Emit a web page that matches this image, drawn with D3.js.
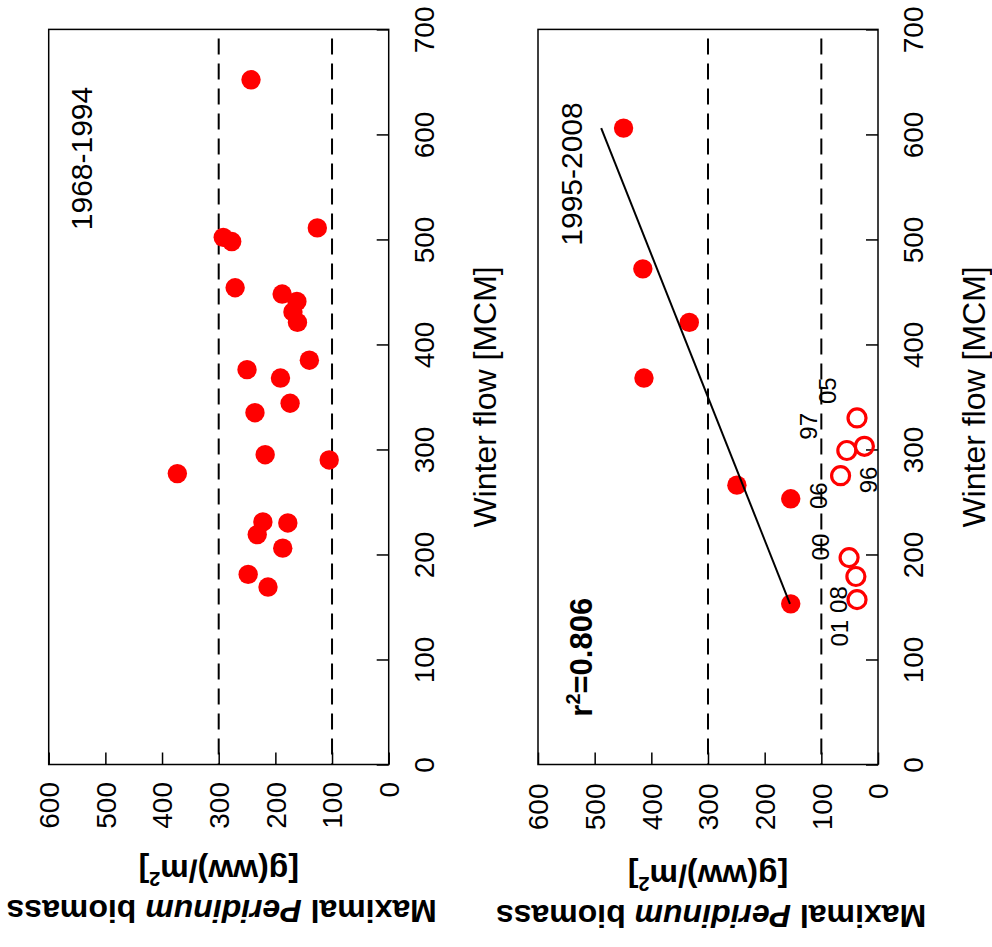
<!DOCTYPE html>
<html>
<head>
<meta charset="utf-8">
<script src="https://cdn.jsdelivr.net/npm/d3@7"></script>
<style>
  html, body { margin: 0; padding: 0; background: #fff; }
  svg { display: block; }
  text { font-family: "Liberation Sans", Arial, Helvetica, sans-serif; fill: #000; }
</style>
</head>
<body>
<svg id="chart" width="992" height="947"></svg>
<script>
// Axis ticks
const flowTicks = [0, 100, 200, 300, 400, 500, 600, 700];
const biomassTicks = [0, 100, 200, 300, 400, 500, 600];
const referenceLevels = [100, 300];

// 1968-1994: winter flow [MCM] and maximal Peridinium biomass [g(ww)/m2]
const earlyFlow    = [652, 502, 498, 511, 454, 448, 441, 431, 421, 385, 376, 368, 344, 335, 295, 290, 277, 231, 230, 219, 206, 181, 169];
const earlyBiomass = [243, 292, 277, 126, 271, 188, 162, 169, 161, 140, 250, 191, 174, 236, 218, 105, 373, 222, 178, 232, 187, 248, 213];

// 1995-2008: years used in the regression
const lateFlow    = [606, 472, 421, 368, 266, 253, 153];
const lateBiomass = [449, 415, 333, 413, 249, 154, 154];

// 1995-2008: low-biomass years (open symbols)
const lowFlow    = [330, 303, 299, 275, 197, 179, 157];
const lowBiomass = [37, 24, 55, 66, 51, 39, 37];

// Year annotations next to the open symbols (data coordinates)
const lowYears        = ["05", "97", "96", "06", "00", "08", "01"];
const lowYearFlow     = [356, 322, 271, 256, 207, 157, 125];
const lowYearBiomass  = [89, 123, 17, 104, 102, 70, 67];

const rSquaredText = "0.806";

const svg = d3.select("#chart");
const FRAME_TOP = 29.4, FRAME_BOTTOM = 764.5;
const flowY = d3.scaleLinear().domain([0, 700]).range([FRAME_BOTTOM, FRAME_TOP]);

const panels = [
  { left: 48.7, right: 388.7, period: "1968-1994", periodX: 92, periodY: 158.5, shift: 0 },
  { left: 538,  right: 878,   period: "1995-2008", periodX: 582, periodY: 174, shift: 5 }
];

function drawPanel(p) {
  const x = d3.scaleLinear().domain([0, 600]).range([p.right, p.left]);
  const g = svg.append("g");

  // dashed reference levels
  g.selectAll("line.ref").data(referenceLevels).join("line")
    .attr("class", "ref")
    .attr("x1", d => x(d)).attr("x2", d => x(d))
    .attr("y1", FRAME_TOP).attr("y2", FRAME_BOTTOM)
    .attr("stroke", "#000").attr("stroke-width", 2)
    .attr("stroke-dasharray", "16 9").attr("stroke-dashoffset", 16);

  // winter flow axis (right side, ticks inward)
  const gy = g.append("g")
    .attr("transform", `translate(${p.right},0)`)
    .call(d3.axisRight(flowY).tickValues(flowTicks).tickSize(-12).tickFormat(d3.format("d")))
    .attr("font-size", 28).attr("font-family", null);
  gy.select(".domain").remove();
  gy.selectAll(".tick line").attr("stroke", "#000").attr("stroke-width", 1.5);
  gy.selectAll(".tick text")
    .attr("x", 0).attr("dy", 0)
    .attr("transform", "translate(45,0) rotate(-90)")
    .attr("text-anchor", "middle");

  // biomass axis (bottom, ticks inward)
  const gx = g.append("g")
    .attr("transform", `translate(0,${FRAME_BOTTOM})`)
    .call(d3.axisBottom(x).tickValues(biomassTicks).tickSize(-12).tickFormat(d3.format("d")))
    .attr("font-size", 28).attr("font-family", null);
  gx.select(".domain").remove();
  gx.selectAll(".tick line").attr("stroke", "#000").attr("stroke-width", 1.5);
  gx.selectAll(".tick text")
    .attr("y", 0).attr("dy", "0.35em")
    .attr("transform", `translate(0,${17.5 + p.shift * 0.3}) rotate(-90)`)
    .attr("text-anchor", "end");

  // frame
  g.append("rect")
    .attr("x", p.left).attr("y", FRAME_TOP)
    .attr("width", p.right - p.left).attr("height", FRAME_BOTTOM - FRAME_TOP)
    .attr("fill", "none").attr("stroke", "#000").attr("stroke-width", 1.5);

  // axis titles
  g.append("text")
    .attr("transform", `translate(${p.right + 107},${(FRAME_TOP + FRAME_BOTTOM) / 2}) rotate(-90)`)
    .attr("text-anchor", "middle").attr("font-size", 32)
    .text("Winter flow [MCM]");

  const cx = (p.left + p.right) / 2;
  const t1 = g.append("text")
    .attr("transform", `translate(${cx + 3},${900 + p.shift}) rotate(180)`)
    .attr("text-anchor", "middle").attr("font-size", 32).attr("font-weight", "bold");
  t1.append("tspan").text("Maximal ");
  t1.append("tspan").attr("font-style", "italic").text("Peridinum");
  t1.append("tspan").text(" biomass");

  const t2 = g.append("text")
    .attr("transform", `translate(${cx},${860 + p.shift}) rotate(180)`)
    .attr("text-anchor", "middle").attr("font-size", 32).attr("font-weight", "bold");
  t2.append("tspan").text("[g(ww)/m");
  t2.append("tspan").attr("font-size", 20).attr("dy", -12).text("2");
  t2.append("tspan").attr("dy", 12).text("]");

  // period label
  g.append("text")
    .attr("transform", `translate(${p.periodX},${p.periodY}) rotate(-90)`)
    .attr("text-anchor", "middle").attr("font-size", 30)
    .text(p.period);

  return { g, x };
}

// 1968-1994
const upper = drawPanel(panels[0]);
upper.g.selectAll("circle.obs").data(earlyFlow).join("circle")
  .attr("class", "obs")
  .attr("cx", (d, i) => upper.x(earlyBiomass[i]))
  .attr("cy", d => flowY(d))
  .attr("r", 9.7).attr("fill", "#ff0000");

// 1995-2008
const lower = drawPanel(panels[1]);
lower.g.selectAll("circle.low").data(lowFlow).join("circle")
  .attr("class", "low")
  .attr("cx", (d, i) => lower.x(lowBiomass[i]))
  .attr("cy", d => flowY(d))
  .attr("r", 9).attr("fill", "none").attr("stroke", "#ff0000").attr("stroke-width", 3.2);

lower.g.selectAll("text.year").data(lowYears).join("text")
  .attr("class", "year")
  .attr("transform", (d, i) => `translate(${lower.x(lowYearBiomass[i])},${flowY(lowYearFlow[i])}) rotate(-90)`)
  .attr("text-anchor", "middle").attr("dy", "0.35em").attr("font-size", 24)
  .text(d => d);

lower.g.selectAll("circle.obs").data(lateFlow).join("circle")
  .attr("class", "obs")
  .attr("cx", (d, i) => lower.x(lateBiomass[i]))
  .attr("cy", d => flowY(d))
  .attr("r", 9.7).attr("fill", "#ff0000");

// least-squares fit of biomass on winter flow
const mf = d3.mean(lateFlow), mb = d3.mean(lateBiomass);
const slope = d3.sum(lateFlow, (f, i) => (f - mf) * (lateBiomass[i] - mb)) /
              d3.sum(lateFlow, f => (f - mf) * (f - mf));
const fit = f => mb + slope * (f - mf);
const [fMin, fMax] = d3.extent(lateFlow);
lower.g.append("line")
  .attr("x1", lower.x(fit(fMin))).attr("y1", flowY(fMin))
  .attr("x2", lower.x(fit(fMax))).attr("y2", flowY(fMax))
  .attr("stroke", "#000").attr("stroke-width", 2);

const r2 = lower.g.append("text")
  .attr("transform", "translate(591.7,716.7) rotate(-90)")
  .attr("text-anchor", "start").attr("font-size", 31).attr("font-weight", "bold");
r2.append("tspan").text("r");
r2.append("tspan").attr("font-size", 20).attr("dy", -12).text("2");
r2.append("tspan").attr("dy", 12).text("=" + rSquaredText);
</script>
</body>
</html>
